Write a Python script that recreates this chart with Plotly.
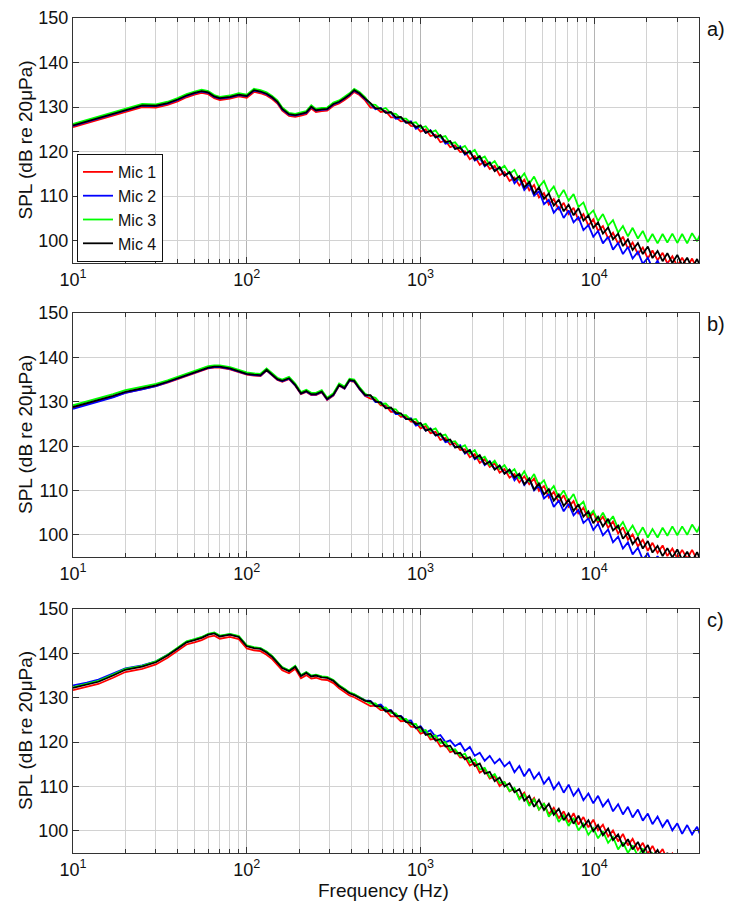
import plotly.graph_objects as go

# Frequency grid (Hz)
FREQ = [10, 12, 14, 17, 20, 25, 30, 35, 40, 45, 50, 55, 60, 65, 70, 80, 90, 100, 110, 120,
        130, 140, 150, 160, 175, 190, 205, 220, 235, 250, 270, 290, 315, 340, 365, 390, 415, 445, 480,
        515, 550, 590, 630, 675, 720, 770, 825, 880, 940,
        1000, 1070, 1140, 1220, 1300, 1390, 1480, 1580, 1690, 1800,
        1920, 2050, 2190, 2340, 2500, 2670, 2850, 3040, 3250, 3470,
        3700, 3950, 4220, 4500, 4800, 5130, 5470, 5840, 6240, 6660,
        7110, 7590, 8100, 8650, 9240, 9860, 10500, 11200, 12000, 12800,
        13700, 14600, 15600, 16600, 17800, 19000, 20300, 21600, 23100, 24700,
        26300, 28100, 30000, 32000, 34200, 36500, 39000, 41000]

# ---- Panel a) SPL (dB) ----
A_MIC1 = [125.5,126.4,127.2,128.1,128.9,130.0,129.9,130.5,131.3,132.2,132.8,133.2,132.9,132.0,131.6,131.9,132.4,132.1,133.4,133.1,132.6,131.8,130.8,129.2,128.0,127.8,128.1,128.4,129.7,128.9,129.1,129.2,130.3,130.8,131.6,132.4,133.4,132.7,131.5,
          129.9,129.9,128.9,129.1,127.7,127.7,126.8,126.9,125.8,125.7,
          124.5,125.0,123.5,123.8,122.1,122.5,121.0,121.4,119.9,120.1,
          118.3,119.0,117.0,117.9,116.1,116.8,114.7,115.4,113.4,114.2,
          112.4,113.7,111.3,112.5,109.7,110.7,108.1,109.4,106.9,108.5,
          106.0,107.4,104.6,106.0,103.4,104.8,102.2,103.3,100.5,101.8,
          99.3,100.9,98.2,99.6,97.0,98.5,96.0,97.8,95.6,97.3,
          94.9,96.5,94.3,96.2,94.1,96.0,93.6,95.4]
A_MIC2 = [125.8,126.7,127.5,128.4,129.2,130.3,130.2,130.8,131.6,132.5,133.1,133.5,133.2,132.3,131.9,132.2,132.7,132.4,133.7,133.4,132.9,132.1,131.1,129.5,128.3,128.1,128.4,128.7,130.0,129.2,129.4,129.5,130.6,131.1,131.9,132.7,133.7,133.0,131.8,
          130.7,129.5,129.8,128.8,128.7,127.4,127.6,126.5,126.8,125.1,
          125.7,124.2,124.8,123.2,123.5,121.8,122.1,120.6,121.2,119.3,
          120.1,118.0,118.6,116.7,117.6,115.7,116.5,114.6,115.4,112.9,
          114.1,111.4,112.7,110.1,111.1,108.2,109.2,106.3,107.6,105.1,
          106.8,104.1,105.3,102.4,103.5,100.9,102.2,99.4,100.9,98.0,
          99.5,97.0,98.6,96.0,97.5,94.8,96.2,93.8,95.5,93.3,
          95.0,92.6,94.2,91.8,93.8,91.7,93.4,91.2]
A_MIC3 = [126.2,127.1,127.9,128.8,129.6,130.7,130.6,131.2,132.0,132.9,133.5,133.9,133.6,132.7,132.3,132.6,133.1,132.8,134.1,133.8,133.3,132.5,131.5,129.9,128.7,128.5,128.8,129.1,130.4,129.6,129.8,129.9,131.0,131.5,132.3,133.1,134.1,133.4,132.2,
          130.6,130.5,129.4,129.8,128.6,128.5,127.4,127.4,126.4,126.6,
          125.3,125.7,124.3,124.8,123.2,123.5,121.8,122.1,120.7,121.3,
          119.6,120.4,118.3,118.9,117.0,117.9,116.0,116.8,115.0,115.9,
          113.7,115.1,112.8,114.4,112.1,113.4,110.8,112.2,109.7,111.4,
          109.0,110.5,107.6,108.6,105.7,106.8,104.4,106.0,103.4,104.6,
          101.8,103.3,101.0,102.9,100.5,102.2,99.7,101.5,99.4,101.5,
          99.6,101.6,99.5,101.5,99.4,101.7,99.9,101.8]
A_MIC4 = [125.9,126.8,127.6,128.5,129.3,130.4,130.3,130.9,131.7,132.6,133.2,133.6,133.3,132.4,132.0,132.3,132.8,132.5,133.8,133.5,133.0,132.2,131.2,129.6,128.4,128.2,128.5,128.8,130.1,129.3,129.5,129.6,130.7,131.2,132.0,132.8,133.8,133.1,131.9,
          130.9,129.7,129.7,128.7,128.9,127.7,127.8,126.5,126.6,125.5,
          125.9,124.2,124.7,123.2,123.7,122.1,122.4,120.6,120.9,119.5,
          120.1,118.2,119.0,116.9,117.5,115.6,116.5,114.6,115.4,113.6,
          114.5,112.0,113.2,110.6,112.0,109.4,110.6,107.9,109.2,106.6,
          108.1,105.7,107.3,104.5,105.7,102.9,104.1,101.6,103.0,100.3,
          101.6,98.8,100.3,97.9,99.5,97.0,98.7,96.1,97.7,95.4,
          97.2,95.0,96.8,94.5,96.2,93.9,95.9,93.9]

# ---- Panel b) SPL (dB) ----
B_MIC1 = [128.6,129.4,130.1,131.1,132.0,132.8,133.5,134.3,135.1,135.7,136.3,136.9,137.5,137.7,137.7,137.3,136.6,136.1,135.9,135.8,137.0,135.9,134.9,134.5,135.1,133.6,131.7,132.2,131.5,131.5,132.1,130.4,131.4,133.6,132.9,134.7,134.5,132.8,131.3,
          130.7,130.5,129.2,129.1,127.7,127.7,126.6,126.7,125.5,125.4,
          124.0,124.5,122.9,123.2,121.4,121.8,120.3,120.7,119.1,119.3,
          117.5,118.2,116.2,117.1,115.3,116.1,114.0,114.8,112.9,113.7,
          111.8,113.2,111.4,112.7,109.9,111.0,108.4,109.7,107.3,108.9,
          106.3,107.6,104.7,106.1,103.5,105.0,102.7,104.1,101.6,103.0,
          100.3,101.7,98.9,100.1,97.4,98.9,96.4,98.2,95.9,97.6,
          95.2,96.9,94.7,96.6,94.6,96.6,94.3,96.1]
B_MIC2 = [128.4,129.2,130.0,131.0,132.0,132.8,133.5,134.4,135.2,135.8,136.4,137.0,137.6,137.8,137.8,137.4,136.7,136.2,136.0,135.9,137.1,136.0,135.0,134.6,135.2,133.7,131.8,132.3,131.6,131.6,132.2,130.5,131.5,133.7,133.0,134.8,134.6,132.9,131.4,
          131.3,129.9,129.9,128.6,128.5,127.2,127.2,126.1,126.3,124.6,
          125.0,123.5,124.0,122.4,122.6,120.9,121.2,119.7,120.2,118.3,
          119.1,117.0,117.6,115.7,116.6,114.8,115.6,113.8,114.7,112.3,
          113.6,111.2,112.6,110.0,111.1,108.2,109.2,106.3,107.7,105.3,
          107.0,104.4,105.6,102.7,103.7,101.1,102.5,99.9,101.2,98.3,
          99.6,96.9,98.3,95.6,97.1,94.4,95.8,93.4,95.2,93.0,
          94.7,92.4,94.1,91.8,93.8,91.7,93.4,91.2]
B_MIC3 = [129.2,130.0,130.7,131.7,132.6,133.4,134.0,134.8,135.6,136.2,136.8,137.4,138.0,138.2,138.2,137.8,137.1,136.6,136.4,136.3,137.5,136.4,135.4,135.0,135.6,134.1,132.2,132.7,132.0,132.0,132.6,130.9,131.9,134.1,133.4,135.2,135.0,133.3,131.8,
          131.2,130.9,129.5,129.6,128.4,128.3,127.0,127.0,125.9,126.1,
          124.6,125.0,123.5,124.0,122.3,122.6,120.9,121.1,119.6,120.2,
          118.3,119.1,117.0,117.6,115.7,116.7,114.8,115.7,113.9,114.8,
          112.6,114.3,112.1,113.7,111.2,112.3,109.6,111.0,108.4,110.0,
          107.6,109.2,106.4,107.5,104.2,105.4,103.2,105.0,102.7,104.2,
          101.4,102.9,100.5,102.1,99.8,101.7,99.4,101.3,99.4,101.6,
          99.8,101.9,99.9,101.9,100.0,102.3,100.6,102.6]
B_MIC4 = [128.8,129.6,130.3,131.3,132.2,133.0,133.7,134.5,135.3,135.9,136.5,137.1,137.7,137.9,137.9,137.5,136.8,136.3,136.1,136.0,137.2,136.1,135.1,134.7,135.3,133.8,131.9,132.4,131.7,131.7,132.3,130.6,131.6,133.8,133.1,134.9,134.7,133.0,131.5,
          131.5,130.1,129.8,128.5,128.7,127.5,127.4,126.1,126.1,125.0,
          125.2,123.5,123.9,122.4,122.8,121.2,121.5,119.7,119.9,118.5,
          119.1,117.2,118.0,115.9,116.5,114.7,115.6,113.8,114.7,112.9,
          113.8,111.4,112.7,110.2,111.6,109.1,110.3,107.7,109.1,106.5,
          107.9,105.4,106.9,104.1,105.3,102.6,104.1,101.9,103.6,101.0,
          102.1,99.1,100.5,97.9,99.4,96.9,98.6,96.0,97.5,95.2,
          97.0,94.9,96.7,94.4,96.2,94.0,96.1,94.1]

# ---- Panel c) SPL (dB) ----
C_MIC1 = [131.7,132.4,133.1,134.5,135.8,136.5,137.5,139.0,140.5,142.0,142.5,143.0,143.7,144.0,143.3,143.7,143.2,141.1,140.7,140.5,139.7,138.7,137.4,136.2,135.5,136.5,134.4,135.1,134.3,134.5,134.1,134.0,133.3,132.1,131.3,130.5,130.1,129.4,128.8,
          128.1,128.2,127.2,127.2,125.8,125.8,124.7,124.8,123.5,123.3,
          121.9,122.3,120.6,120.8,119.0,119.3,117.7,118.1,116.5,116.6,
          114.7,115.3,113.1,113.8,111.8,112.3,110.1,111.0,108.9,109.5,
          107.4,108.6,106.1,107.4,104.8,106.1,103.7,105.2,102.8,104.4,
          101.9,104.0,101.4,103.1,100.8,102.5,100.1,101.4,98.7,100.1,
          97.6,99.3,96.7,98.2,95.7,97.3,94.8,96.6,94.3,95.9,
          93.4,94.9,92.5,94.2,92.0,93.8,91.3,92.9]
C_MIC2 = [132.8,133.4,134.1,135.4,136.6,137.3,138.2,139.7,141.1,142.6,143.1,143.6,144.3,144.6,143.9,144.3,143.8,141.7,141.3,141.1,140.3,139.3,138.0,136.8,136.1,137.1,135.0,135.7,134.9,135.1,134.7,134.6,133.9,132.7,131.9,131.1,130.7,130.0,129.4,
          129.3,128.2,128.5,127.3,127.2,125.9,125.9,124.8,124.9,123.1,
          123.6,122.1,122.7,121.2,121.6,120.0,120.4,119.1,119.8,118.0,
          118.9,116.9,117.6,115.8,116.9,115.2,116.2,114.5,115.5,113.2,
          114.6,112.3,114.0,111.7,113.1,110.6,112.0,109.4,110.9,108.6,
          110.4,107.9,109.4,106.9,108.4,106.2,107.9,105.5,107.0,104.4,
          106.0,103.7,105.4,103.0,104.8,102.3,103.9,101.5,103.2,100.9,
          102.5,100.1,101.7,99.3,101.3,99.2,100.9,98.7]
C_MIC3 = [132.4,133.1,133.8,135.2,136.5,137.2,138.2,139.7,141.2,142.7,143.2,143.7,144.4,144.7,144.0,144.4,143.9,141.8,141.4,141.2,140.4,139.4,138.1,136.9,136.2,137.2,135.1,135.8,135.0,135.2,134.8,134.7,134.0,132.8,132.0,131.2,130.8,130.1,129.5,
          128.7,128.7,127.6,127.8,126.6,126.5,125.2,125.2,124.0,124.1,
          122.4,122.7,121.1,121.5,119.8,120.0,118.2,118.4,116.9,117.4,
          115.4,116.1,113.8,114.2,112.1,112.8,110.8,111.0,109.0,109.7,
          107.1,108.2,105.6,107.1,104.8,106.2,103.2,104.6,102.0,103.5,
          101.1,102.9,100.1,101.6,99.1,100.6,98.3,99.9,97.3,98.6,
          95.8,97.4,95.0,96.7,94.3,96.0,93.4,94.9,92.5,94.2,
          91.9,93.5,91.0,92.5,90.1,92.0,89.8,91.4]
C_MIC4 = [132.2,132.9,133.6,135.0,136.3,137.0,138.0,139.5,141.0,142.5,143.0,143.5,144.2,144.5,143.8,144.2,143.7,141.6,141.2,141.0,140.2,139.2,137.9,136.7,136.0,137.0,134.9,135.6,134.8,135.0,134.6,134.5,133.8,132.6,131.8,131.0,130.6,129.9,129.3,
          129.2,128.1,128.1,126.9,127.1,125.9,125.8,124.5,124.4,123.2,
          123.4,121.6,121.9,120.3,120.7,119.0,119.2,117.4,117.6,116.1,
          116.6,114.6,115.2,112.9,113.3,111.2,112.0,110.0,110.7,108.7,
          109.4,106.8,107.9,105.4,107.0,104.7,106.1,103.6,105.0,102.4,
          103.9,101.6,103.4,100.9,102.4,99.9,101.3,99.0,100.5,97.9,
          99.2,96.5,98.1,95.8,97.5,95.1,96.8,94.2,95.7,93.3,
          95.0,92.7,94.3,91.8,93.4,91.0,92.9,90.7]

MIC_NAMES = ["Mic 1", "Mic 2", "Mic 3", "Mic 4"]
MIC_COLORS = ["#ff0000", "#0000ff", "#00ff00", "#000000"]
PANEL_LABELS = ["a)", "b)", "c)"]
PANELS = [[A_MIC1, A_MIC2, A_MIC3, A_MIC4],
          [B_MIC1, B_MIC2, B_MIC3, B_MIC4],
          [C_MIC1, C_MIC2, C_MIC3, C_MIC4]]

X_MAJOR = [10, 100, 1000, 10000]
X_MAJOR_TEXT = ["10<sup>1</sup>", "10<sup>2</sup>", "10<sup>3</sup>", "10<sup>4</sup>"]
X_MINOR = [20, 30, 40, 50, 60, 70, 80, 90, 200, 300, 400, 500, 600, 700, 800, 900,
           2000, 3000, 4000, 5000, 6000, 7000, 8000, 9000, 20000, 30000, 40000]
Y_TICKS = [100, 110, 120, 130, 140, 150]

# page pixels (body margin is removed by the post script)
W, H = 738, 903
PL, PR = 73, 699
PANEL_PX = [(18, 263), (313, 557), (609, 853)]
ML = PL
MR = W - PR
MT = PANEL_PX[0][0]
MB = H - PANEL_PX[2][1]
plot_w = W - ML - MR
plot_h = H - MT - MB

def px(p):
    return (p - ML) / plot_w

def py(p):
    return (H - MB - p) / plot_h

FONT = "Liberation Sans, Arial, sans-serif"
fig = go.Figure()

for i, series in enumerate(PANELS):
    sfx = "" if i == 0 else str(i + 1)
    for j, vals in enumerate(series):
        fig.add_trace(go.Scatter(
            x=FREQ, y=vals, mode="lines", name=MIC_NAMES[j],
            line=dict(color=MIC_COLORS[j], width=1.8),
            xaxis="x" + sfx, yaxis="y" + sfx,
            showlegend=(i == 0)))
    top, bot = PANEL_PX[i]
    fig.layout["xaxis" + sfx] = dict(
        type="log", range=[1, 4.60206], domain=[0, 1], anchor="y" + sfx,
        tickmode="array", tickvals=X_MAJOR, ticktext=X_MAJOR_TEXT,
        ticks="inside", ticklen=6, tickcolor="#333",
        showline=True, linecolor="#333", linewidth=1.3, mirror="allticks",
        showgrid=True, gridcolor="#b4b4b4", gridwidth=1,
        minor=dict(tickmode="array", tickvals=X_MINOR, ticks="inside", ticklen=4,
                   tickcolor="#333", showgrid=True, gridcolor="#d2d2d2", gridwidth=1),
        tickfont=dict(family=FONT, size=18, color="#111"),
        zeroline=False, automargin=False)
    fig.layout["yaxis" + sfx] = dict(
        range=[95, 150], domain=[py(bot), py(top)], anchor="x" + sfx,
        tickmode="array", tickvals=Y_TICKS,
        ticks="inside", ticklen=6, tickcolor="#333",
        showline=True, linecolor="#333", linewidth=1.3, mirror="allticks",
        showgrid=True, gridcolor="#d2d2d2", gridwidth=1,
        tickfont=dict(family=FONT, size=18, color="#111"),
        zeroline=False, automargin=False)
    fig.add_annotation(text="SPL (dB re 20\u03bcPa)", textangle=-90,
                       xref="paper", yref="paper", x=px(25),
                       y=py((top + bot) / 2), xanchor="center", yanchor="middle",
                       showarrow=False, font=dict(family=FONT, size=19, color="#111"))
    fig.add_annotation(text=PANEL_LABELS[i], xref="paper", yref="paper",
                       x=px(705), y=py(top - 2), xanchor="left", yanchor="top",
                       showarrow=False, font=dict(family=FONT, size=20, color="#111"))

fig.add_annotation(text="Frequency (Hz)", xref="paper", yref="paper",
                   x=px(383), y=py(890), xanchor="center", yanchor="middle",
                   showarrow=False, font=dict(family=FONT, size=19, color="#111"))

fig.update_layout(
    width=W, height=H,
    margin=dict(l=ML, r=MR, t=MT, b=MB),
    paper_bgcolor="white", plot_bgcolor="white",
    font=dict(family=FONT, color="#111"),
    legend=dict(x=px(77), y=py(262), xanchor="left", yanchor="bottom",
                bgcolor="white", bordercolor="#111", borderwidth=1,
                font=dict(family=FONT, size=16, color="#111"),
                tracegroupgap=0, itemwidth=30),
)

fig.write_html("out.html",
               config={"displayModeBar": False},
               post_script="document.body.style.margin='0';document.body.style.overflow='hidden';")
